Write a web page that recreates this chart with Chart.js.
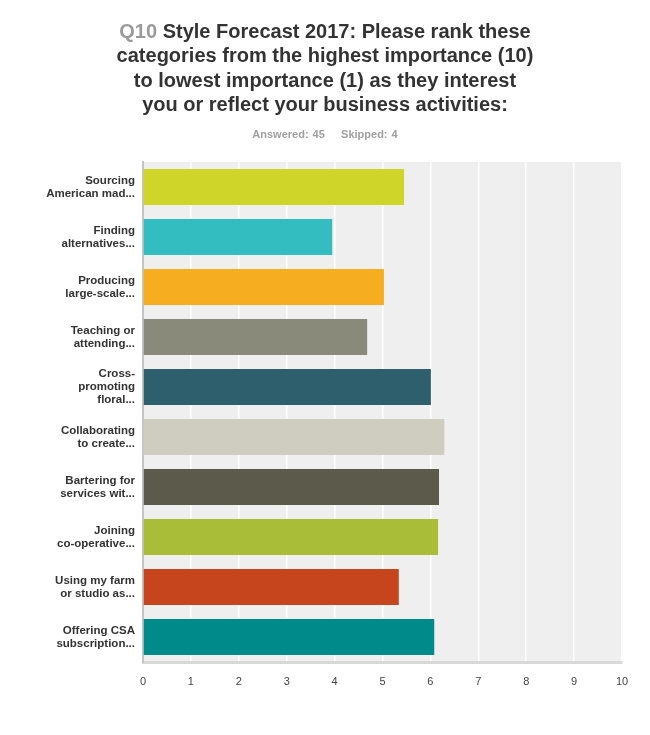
<!DOCTYPE html>
<html>
<head>
<meta charset="utf-8">
<script src="https://cdn.jsdelivr.net/npm/chart.js@4"></script>
<style>
  body { margin: 0; background: #fff; }
  #wrap { position: relative; width: 650px; height: 735px; }
  #title {
    position: absolute; left: 0; top: 19px; width: 650px;
    text-align: center; font-family: "Liberation Sans", Arial, sans-serif;
    font-weight: bold; font-size: 20px; line-height: 24.3px; color: #333;
  }
  #title .q { color: #9a9a9a; }
  #sub {
    position: absolute; left: 0; top: 128px; width: 650px;
    text-align: center; font-family: "Liberation Sans", Arial, sans-serif;
    font-weight: bold; font-size: 11px; color: #a0a0a0; word-spacing: 1px;
  }
  canvas { position: absolute; left: 0; top: 0; }
</style>
</head>
<body>
<div id="wrap">
  <canvas id="myChart" width="650" height="735"></canvas>
  <div id="title"><span class="q">Q10</span> Style Forecast 2017: Please rank these<br>categories from the highest importance (10)<br>to lowest importance (1) as they interest<br>you or reflect your business activities:</div>
  <div id="sub">Answered: 45&nbsp;&nbsp;&nbsp;&nbsp;Skipped: 4</div>
</div>
<script>
// Categories (labels are cut the same way as the picture)
const categories = [
    ["Sourcing", "American mad..."],
    ["Finding", "alternatives..."],
    ["Producing", "large-scale..."],
    ["Teaching or", "attending..."],
    ["Cross-", "promoting", "floral..."],
    ["Collaborating", "to create..."],
    ["Bartering for", "services wit..."],
    ["Joining", "co-operative..."],
    ["Using my farm", "or studio as..."],
    ["Offering CSA", "subscription..."]
];

// Average ranking of each category
const scores = [5.45, 3.95, 5.03, 4.68, 6.01, 6.29, 6.18, 6.16, 5.34, 6.08];

const barColors = [
    "#d0d52a",
    "#33bdc0",
    "#f6ae20",
    "#8a8a7a",
    "#2e5f6d",
    "#cfcdbf",
    "#5b5a4b",
    "#a9bd39",
    "#c7451c",
    "#008b8a"
];

const xTicks = [0, 1, 2, 3, 4, 5, 6, 7, 8, 9, 10];

// grey box behind the bars
const plotBg = {
    id: "plotBg",
    beforeDraw(chart) {
        const a = chart.chartArea;
        const ctx = chart.ctx;
        ctx.save();
        ctx.fillStyle = "#efefef";
        ctx.fillRect(a.left, a.top, a.right - a.left, a.bottom - a.top);
        ctx.restore();
    }
};

new Chart("myChart", {
    type: "bar",
    data: {
        labels: categories,
        datasets: [{
            data: scores,
            backgroundColor: barColors,
            borderWidth: 0,
            barPercentage: 0.72,
            categoryPercentage: 1
        }]
    },
    options: {
        indexAxis: "y",
        responsive: false,
        animation: false,
        layout: { padding: { top: 162, right: 28, left: 0, bottom: 0 } },
        plugins: {
            legend: { display: false },
            tooltip: { enabled: false }
        },
        scales: {
            x: {
                min: xTicks[0],
                max: xTicks[xTicks.length - 1],
                afterBuildTicks(scale) {
                    scale.ticks = xTicks.map(v => ({ value: v }));
                },
                afterFit(scale) { scale.height = 73; },
                grid: { color: "#ffffff", lineWidth: 1.5, drawTicks: false },
                border: { color: "#d9d9d9", width: 3 },
                ticks: {
                    padding: 13,
                    color: "#444",
                    font: { family: "Liberation Sans", size: 11 }
                }
            },
            y: {
                afterFit(scale) { scale.width = 143; },
                grid: { display: false, drawTicks: false },
                border: { color: "#c4c4c4", width: 2 },
                ticks: {
                    padding: 8,
                    color: "#333",
                    font: { family: "Liberation Sans", size: 11.5, weight: "bold", lineHeight: 1.13 }
                }
            }
        }
    },
    plugins: [plotBg]
});
</script>
</body>
</html>
